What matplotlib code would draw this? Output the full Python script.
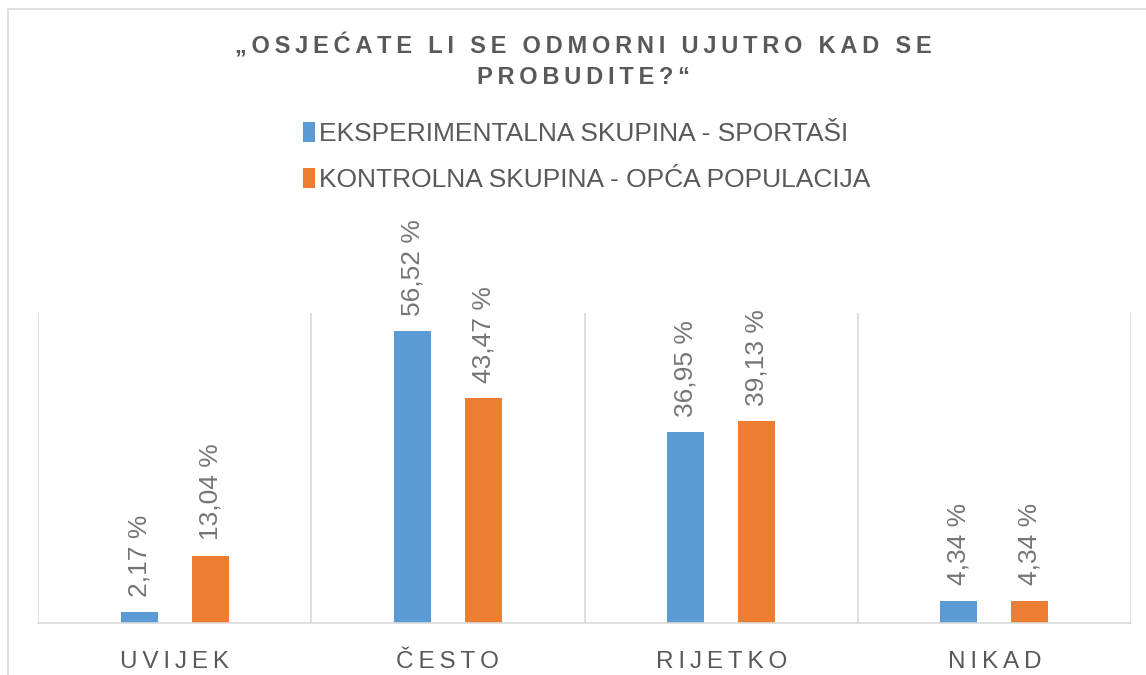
import matplotlib
matplotlib.use("Agg")
import matplotlib.pyplot as plt
import numpy as np
from matplotlib.patches import Rectangle

categories = ["UVIJEK", "ČESTO", "RIJETKO", "NIKAD"]
series_names = ["EKSPERIMENTALNA SKUPINA - SPORTAŠI", "KONTROLNA SKUPINA - OPĆA POPULACIJA"]
sportasi = [2.17, 56.52, 36.95, 4.34]
opca = [13.04, 43.47, 39.13, 4.34]
labels_sportasi = ["2,17 %", "56,52 %", "36,95 %", "4,34 %"]
labels_opca = ["13,04 %", "43,47 %", "39,13 %", "4,34 %"]
title = "„OSJEĆATE LI SE ODMORNI UJUTRO KAD SE\nPROBUDITE?“"

plt.rcParams['font.family'] = ['Liberation Sans', 'DejaVu Sans']

BLUE = "#5B9BD5"
ORANGE = "#ED7D31"
TXT = "#595959"
LBL = "#757575"
GRID = "#D9D9D9"

def spaced(s, sp="\u200a"):
    return "\n".join(sp.join(list(line)) for line in s.split("\n"))

W, H = 1146, 675
fig = plt.figure(figsize=(W / 100, H / 100), dpi=100)
fig.patches.append(Rectangle((8 / W, -0.1), 1.2, (H - 9) / H + 0.1, transform=fig.transFigure,
                             fill=False, edgecolor=GRID, linewidth=1.2))

ax = fig.add_axes([38 / W, 52 / H, (1131 - 38) / W, (623 - 313) / H])
x = np.arange(len(categories))
w = 0.136
off = 0.13
b1 = ax.bar(x - off, sportasi, w, color=BLUE, label=series_names[0])
b2 = ax.bar(x + off, opca, w, color=ORANGE, label=series_names[1])

for bars, labs in ((b1, labels_sportasi), (b2, labels_opca)):
    for r, t in zip(bars, labs):
        ax.annotate(t, (r.get_x() + r.get_width() / 2, r.get_height()), xytext=(0, 11),
                    textcoords="offset points", rotation=90, ha="center", va="bottom",
                    fontsize=19, color=LBL)

ax.set_xlim(-0.5, len(categories) - 0.5)
ax.set_ylim(0, 60)
ax.set_yticks([])
ax.set_xticks(x)
ax.set_xticklabels([spaced(c, "\u2009") for c in categories], fontsize=17.5, color=TXT)
ax.tick_params(axis="x", length=0, pad=20)
ax.set_xticks(np.arange(-0.5, len(categories), 1.0), minor=True)
ax.tick_params(axis="x", which="minor", length=0)
ax.grid(axis="x", which="minor", color=GRID, linewidth=1.2)
ax.set_axisbelow(True)
for s in ["top", "left", "right"]:
    ax.spines[s].set_visible(False)
ax.spines["bottom"].set_color(GRID)
ax.spines["bottom"].set_linewidth(1.2)

fig.text(0.509, 1 - 61 / H, spaced(title, "\u2009"), ha="center", va="center", fontsize=17,
         fontweight="bold", color=TXT, linespacing=1.4)

leg = fig.legend(loc="center", bbox_to_anchor=(0.512, 1 - 157 / H), ncol=1, frameon=False,
                 fontsize=19, handlelength=0.45, handleheight=0.8, handletextpad=0.15,
                 labelspacing=0.85, labelcolor=TXT)

fig.savefig("out.png", dpi=100, facecolor="white")
